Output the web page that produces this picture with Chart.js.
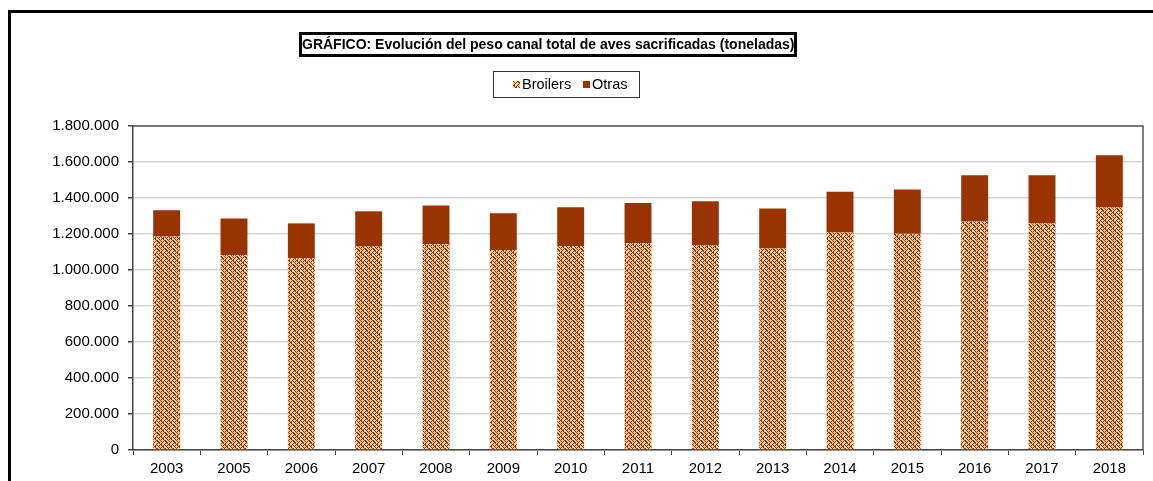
<!DOCTYPE html>
<html>
<head>
<meta charset="utf-8">
<script src="https://cdn.jsdelivr.net/npm/chart.js@4.4.1/dist/chart.umd.min.js"></script>
<style>
  html, body { margin: 0; padding: 0; background: #fff; overflow: hidden; }
  body { width: 1153px; height: 481px; position: relative; font-family: "Liberation Sans", Arial, sans-serif; }
  #frame { position: absolute; left: 8px; top: 10px; width: 2000px; height: 1000px; border-left: 3px solid #000; border-top: 3px solid #000; }
  #chart { position: absolute; left: 0; top: 0; }
  #title { position: absolute; left: 299px; top: 32px; width: 492px; height: 19px; border: 3px solid #000;
           font-weight: bold; font-size: 14px; line-height: 19px; text-align: center; color: #000; white-space: nowrap; }
  #legend { position: absolute; left: 493px; top: 71px; width: 145px; height: 25px; border: 1px solid #333;
            font-size: 14.5px; line-height: 25px; color: #000; white-space: nowrap; }
  #legend span.item { position: absolute; top: 0; }
  #legend canvas, #legend i { position: absolute; top: 9px; width: 7px; height: 7px; }
</style>
</head>
<body>
<div id="frame"></div>
<canvas id="chart" width="1153" height="481"></canvas>
<div id="title">GRÁFICO: Evolución del peso canal total de aves sacrificadas (toneladas)</div>
<div id="legend">
  <canvas id="sw-broilers" width="7" height="7" style="left:19px"></canvas>
  <span class="item" style="left:28px">Broilers</span>
  <i style="left:89px; background:#993300"></i>
  <span class="item" style="left:98px">Otras</span>
</div>
<script>
window.addEventListener('DOMContentLoaded', () => {
    // --- DATA ---
    const years = ["2003", "2005", "2006", "2007", "2008", "2009", "2010", "2011", "2012", "2013", "2014", "2015", "2016", "2017", "2018"];
    const broilers = [1186000, 1082000, 1065000, 1130000, 1143000, 1111000, 1132000, 1148000, 1137000, 1119000, 1209000, 1202000, 1269000, 1259000, 1347000];
    const otras = [146000, 204000, 194000, 196000, 215000, 204000, 216000, 224000, 245000, 222000, 226000, 245000, 257000, 268000, 290000];
    const yTicks = [0, 200000, 400000, 600000, 800000, 1000000, 1200000, 1400000, 1600000, 1800000];

    const DARK = '#993300', LIGHT = '#ffcc99';
    const FONT = '"Liberation Sans", Arial, sans-serif';

    // --- PATTERN (weave, 8x8) ---
    const bits = [
        "10001100",
        "01010110",
        "00100011",
        "01000101",
        "11001000",
        "01010101",
        "00110010",
        "01010001"
    ];
    function paintTile(ctx, w, h) {
        ctx.fillStyle = LIGHT;
        ctx.fillRect(0, 0, w, h);
        ctx.fillStyle = DARK;
        for (let y = 0; y < h; y++)
            for (let x = 0; x < w; x++)
                if (bits[y % bits.length][x % 8] === '1') ctx.fillRect(x, y, 1, 1);
    }
    const tile = document.createElement('canvas');
    tile.width = 8; tile.height = 8;
    paintTile(tile.getContext('2d'), 8, 8);

    const swatch = document.getElementById('sw-broilers');
    paintTile(swatch.getContext('2d'), 7, 7);

    const ctx = document.getElementById('chart').getContext('2d');
    const pattern = ctx.createPattern(tile, 'repeat');

    const fmt = v => String(v).replace(/\B(?=(\d{3})+(?!\d))/g, '.');

    // top + right border of the plot area
    const plotFrame = {
        id: 'plotFrame',
        afterDatasetsDraw(chart) {
            const a = chart.chartArea, c = chart.ctx;
            c.save();
            c.strokeStyle = '#555';
            c.lineWidth = 1.5;
            c.beginPath();
            c.moveTo(a.left, a.top);
            c.lineTo(a.right, a.top);
            c.lineTo(a.right, a.bottom);
            c.stroke();
            c.restore();
        }
    };

    new Chart(ctx, {
        type: 'bar',
        data: {
            labels: years,
            datasets: [
                { label: 'Broilers', data: broilers, backgroundColor: pattern, borderWidth: 0 },
                { label: 'Otras', data: otras, backgroundColor: DARK, borderWidth: 0 }
            ]
        },
        options: {
            responsive: false,
            animation: false,
            devicePixelRatio: 1,
            datasets: { bar: { categoryPercentage: 1, barPercentage: 0.4 } },
            layout: { padding: { left: 0, right: 10, top: 126, bottom: 0 } },
            plugins: { legend: { display: false }, title: { display: false }, tooltip: { enabled: false } },
            scales: {
                x: {
                    stacked: true,
                    afterFit: s => { s.height = 31; },
                    grid: { offset: true, drawOnChartArea: false, tickLength: 5, tickColor: '#444', lineWidth: 1 },
                    border: { color: '#444', width: 1.5 },
                    ticks: { color: '#000', font: { family: FONT, size: 15 }, padding: 5, maxRotation: 0, autoSkip: false }
                },
                y: {
                    stacked: true,
                    min: 0, max: 1800000,
                    afterFit: s => { s.width = 133; },
                    afterBuildTicks: s => { s.ticks = yTicks.map(v => ({ value: v })); },
                    grid: { color: '#d6d6d6', lineWidth: 1.5, tickLength: 5, tickColor: '#444' },
                    border: { color: '#444', width: 1.5 },
                    ticks: { color: '#000', font: { family: FONT, size: 15 }, padding: 9, callback: v => fmt(v) }
                }
            }
        },
        plugins: [plotFrame]
    });
});
</script>
</body>
</html>
